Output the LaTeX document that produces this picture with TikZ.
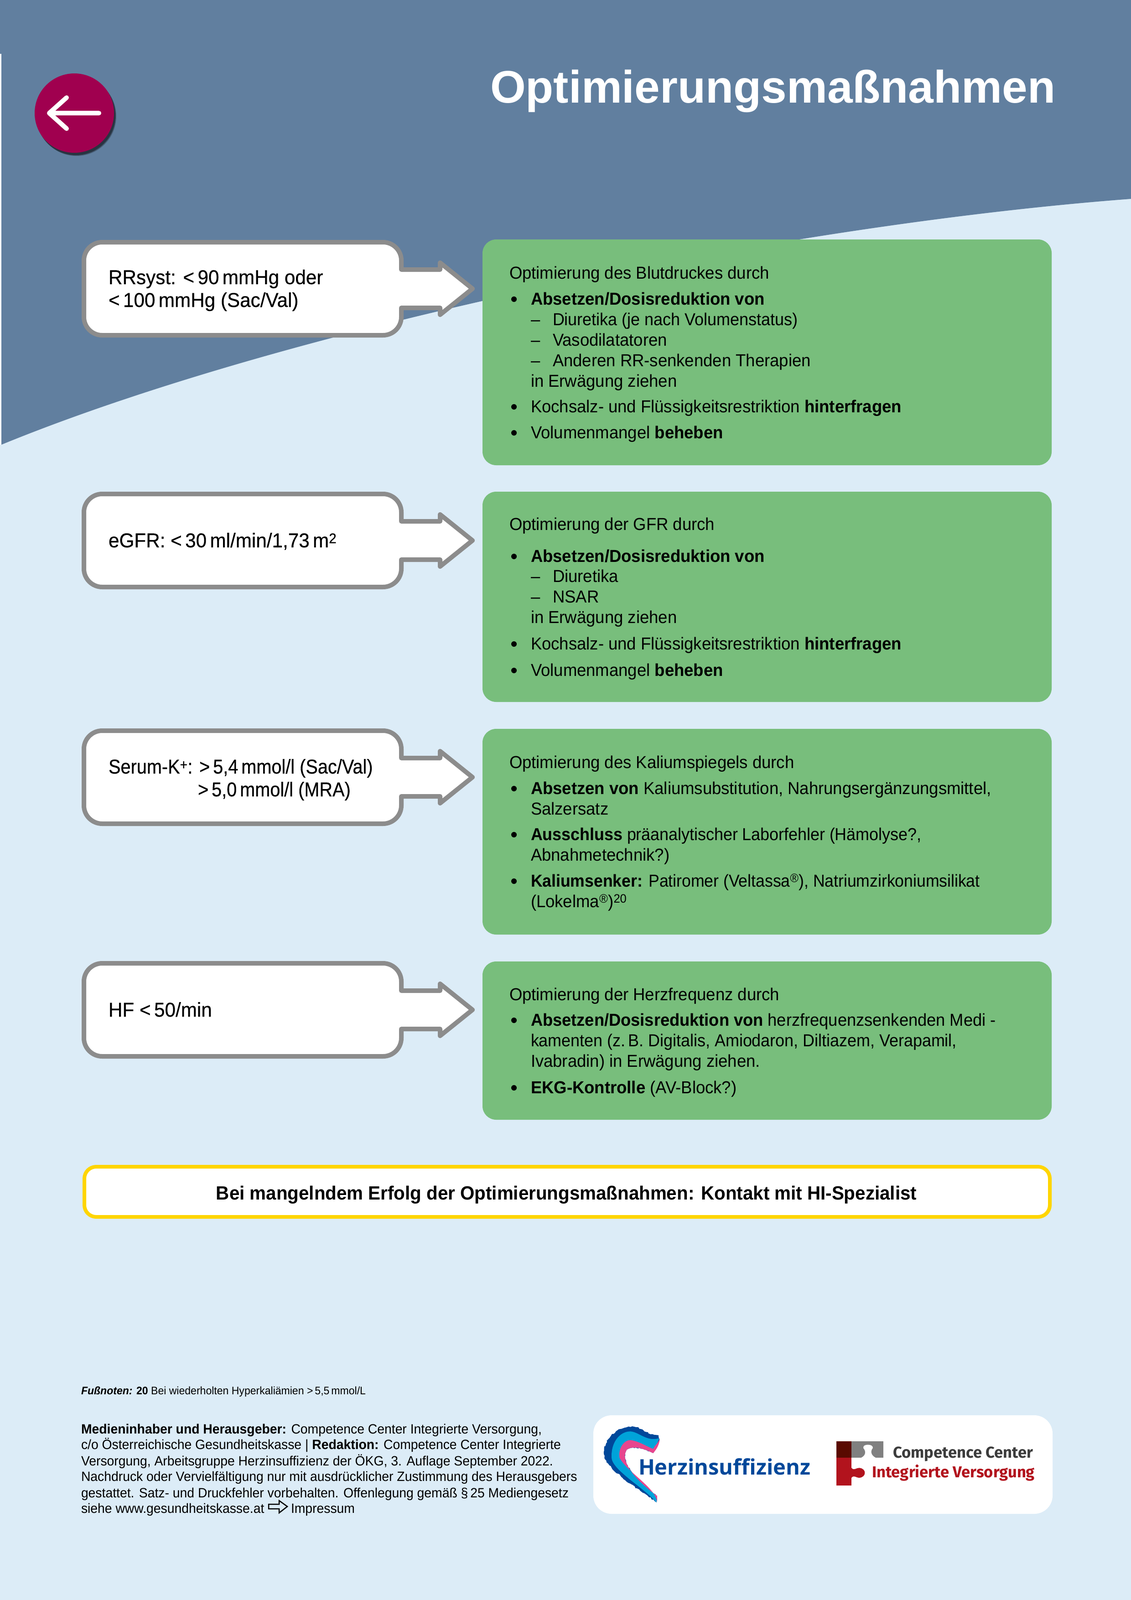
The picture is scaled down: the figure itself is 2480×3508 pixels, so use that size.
\documentclass[tikz,border=0pt]{standalone}
\usepackage{fontspec}
\setmainfont[FakeStretch=0.96]{Liberation Sans}
\newfontfamily\titlef{Liberation Sans}
\newfontfamily\leadf[FakeStretch=0.96,FakeBold=0.35]{Liberation Sans}
\newfontfamily\heartf{Open Sans}
\newfontfamily\ccf{Fira Sans}
\usetikzlibrary{shapes.geometric,decorations.pathmorphing}
\definecolor{bandblue}{HTML}{617F9F}
\definecolor{paleblue}{HTML}{DCECF7}
\definecolor{boxgreen}{HTML}{78BE7C}
\definecolor{plum}{HTML}{A0004F}
\definecolor{calloutgray}{HTML}{8C8C8C}
\definecolor{signal}{HTML}{FFD500}
\definecolor{logoblue}{HTML}{00489A}
\definecolor{logocyan}{HTML}{00A3D9}
\definecolor{logopink}{HTML}{E8458E}
\definecolor{logored}{HTML}{B2131D}
\definecolor{logodark}{HTML}{5A0A00}
\definecolor{logogray}{HTML}{808080}
\definecolor{logotext}{HTML}{3C3C3C}
\tikzset{
  x=1pt,y=-1pt,
  tx/.style={inner sep=0pt,outer sep=0pt,anchor=base west,text=black},
  body/.style={tx,font=\fontsize{38}{45}\selectfont},
  lead/.style={tx,font=\leadf\fontsize{44}{50}\selectfont},
  foot/.style={tx,font=\fontsize{29.5}{35}\selectfont},
  note/.style={tx,font=\fontsize{24}{30}\selectfont},
  greenbox/.style={fill=boxgreen,rounded corners=30pt,draw=none},
  calloutbox/.style={draw=calloutgray,fill=white,line width=10pt,line join=round},
  dot/.style={circle,fill=black,inner sep=0pt,minimum size=12pt},
}
\newcommand\tl[5][body]{\node[#1] (#2) at (#3,#4) {#5};}
\newcommand\bul[2]{\node[dot] (#1) at (1127,#2-12) {};}
\newcommand\callout[2]{%
  \draw[calloutbox] (224,#2-102)
    -- (840,#2-102) .. controls (862,#2-102) and (880,#2-84) .. (880,#2-62)
    -- (880,#2-42) -- (965,#2-42) -- (965,#2-57) -- (1036,#2) -- (965,#2+57) -- (965,#2+42) -- (880,#2+42)
    -- (880,#2+62) .. controls (880,#2+84) and (862,#2+102) .. (840,#2+102)
    -- (224,#2+102) .. controls (202,#2+102) and (184,#2+84) .. (184,#2+62)
    -- (184,#2-62) .. controls (184,#2-84) and (202,#2-102) .. (224,#2-102) -- cycle;
  \coordinate (#1) at (1036,#2);}
\begin{document}
\begin{tikzpicture}
\useasboundingbox (0,0) rectangle (2480,3508);
\fill[paleblue] (0,0) rectangle (2480,3508);
\fill[white] (0,118) rectangle (3,975);
\fill[bandblue] (0,0) -- (2480,0) -- (2480,436)
  .. controls (1700,495) and (620,722) .. (3,975) -- (3,118) -- (0,118) -- cycle;

% back button
\foreach \o in {0.3,0.25,0.2}{\fill[black,opacity=\o] ({163+5-20*\o+4},{248+7-20*\o+4}) circle[radius=87];}
\fill[plum] (163,248) circle[radius=87];
\draw[white,line width=10pt,line cap=round,line join=round] (217,248) -- (108,248) (146,214) -- (108,248) -- (146,282);

\node[tx,text=white,font=\titlef\bfseries\fontsize{100}{110}\selectfont] (title) at (1075,226) {Optimierungsmaßnahmen};

% green boxes
\fill[greenbox] (1058,525) rectangle (2306,1020);
\fill[greenbox] (1058,1078) rectangle (2306,1539);
\fill[greenbox] (1058,1598) rectangle (2306,2049);
\fill[greenbox] (1058,2108) rectangle (2306,2455);

% callouts
\callout{tipa}{633}
\callout{tipb}{1185}
\callout{tipc}{1704}
\callout{tipd}{2214}

\tl[lead]{la}{238}{623}{RRsyst: <\,90\,mmHg oder}
\tl[lead]{lb}{238}{673}{<\,100\,mmHg (Sac/Val)}
\tl[lead]{lc}{238}{1200}{eGFR: <\,30\,ml/min/1,73\,m\textsuperscript{2}}
\tl[lead]{ld}{238}{1696}{\scalebox{0.94}[1]{Serum-K\textsuperscript{+}: >\,5,4\,mmol/l (Sac/Val)}}
\tl[lead]{le}{434}{1746}{\scalebox{0.94}[1]{>\,5,0\,mmol/l (MRA)}}
\tl[lead]{lf}{238}{2229}{HF <\,50/min}

% box 1
\tl{a0}{1117}{611}{Optimierung des Blutdruckes durch}
\bul{a1b}{668}
\tl{a1}{1164}{668}{\bfseries Absetzen/Dosisreduktion von}
\tl{a2d}{1164}{713}{–}\tl{a2}{1212}{713}{\scalebox{0.985}[1]{Diuretika (je nach Volumenstatus)}}
\tl{a3d}{1164}{758}{–}\tl{a3}{1212}{758}{Vasodilatatoren}
\tl{a4d}{1164}{803}{–}\tl{a4}{1212}{803}{Anderen RR-senkenden Therapien}
\tl{a5}{1164}{848}{in Erwägung ziehen}
\bul{a6b}{904}
\tl{a6}{1164}{904}{Kochsalz- und Flüssigkeitsrestriktion \textbf{hinterfragen}}
\bul{a7b}{961}
\tl{a7}{1164}{961}{Volumenmangel \textbf{beheben}}

% box 2
\tl{b0}{1117}{1162}{Optimierung der GFR durch}
\bul{b1b}{1232}
\tl{b1}{1164}{1232}{\bfseries Absetzen/Dosisreduktion von}
\tl{b2d}{1164}{1276}{–}\tl{b2}{1212}{1276}{Diuretika}
\tl{b3d}{1164}{1321}{–}\tl{b3}{1212}{1321}{NSAR}
\tl{b4}{1164}{1366}{in Erwägung ziehen}
\bul{b5b}{1424}
\tl{b5}{1164}{1424}{Kochsalz- und Flüssigkeitsrestriktion \textbf{hinterfragen}}
\bul{b6b}{1482}
\tl{b6}{1164}{1482}{Volumenmangel \textbf{beheben}}

% box 3
\tl{c0}{1117}{1684}{Optimierung des Kaliumspiegels durch}
\bul{c1b}{1741}
\tl{c1}{1164}{1741}{\textbf{Absetzen von} Kaliumsubstitution, Nahrungsergänzungsmittel,}
\tl{c2}{1164}{1786}{Salzersatz}
\bul{c3b}{1842}
\tl{c3}{1164}{1842}{\scalebox{0.982}[1]{\textbf{Ausschluss} präanalytischer Laborfehler (Hämolyse?,}}
\tl{c4}{1164}{1887}{Abnahmetechnik?)}
\bul{c5b}{1944}
\tl{c5}{1164}{1944}{\scalebox{0.975}[1]{\textbf{Kaliumsenker:} Patiromer (Veltassa\textsuperscript{®}), Natriumzirkoniumsilikat}}
\tl{c6}{1164}{1989}{(Lokelma\textsuperscript{®})\textsuperscript{20}}

% box 4
\tl{d0}{1117}{2193}{Optimierung der Herzfrequenz durch}
\bul{d1b}{2249}
\tl{d1}{1164}{2249}{\scalebox{0.994}[1]{\textbf{Absetzen/Dosisreduktion von} herzfrequenzsenkenden Medi -}}
\tl{d2}{1164}{2294}{\scalebox{0.984}[1]{kamenten (z.\,B. Digitalis, Amiodaron, Diltiazem, Verapamil,}}
\tl{d3}{1164}{2339}{Ivabradin) in Erwägung ziehen.}
\bul{d4b}{2397}
\tl{d4}{1164}{2397}{\textbf{EKG-Kontrolle} (AV-Block?)}

% signal box
\draw[draw=signal,fill=white,line width=8pt,rounded corners=26pt] (185,2558) rectangle (2302,2668);
\node[tx,anchor=base,font=\bfseries\fontsize{42}{50}\selectfont] (signaltext) at (1242,2630) {Bei mangelndem Erfolg der Optimierungsmaßnahmen: Kontakt mit HI-Spezialist};

% footer
\tl[note]{fn}{178}{3057}{\textbf{\textit{Fußnoten:}} \textbf{20} Bei wiederholten Hyperkaliämien >\,5,5\,mmol/L}
\tl[foot]{f1}{178}{3143}{\textbf{Medieninhaber und Herausgeber:} Competence Center Integrierte Versorgung,}
\tl[foot]{f2}{178}{3177}{c/o Österreichische Gesundheitskasse | \textbf{Redaktion:} Competence Center Integrierte}
\tl[foot]{f3}{178}{3213}{Versorgung, Arbeitsgruppe Herzinsuffizienz der ÖKG, 3. Auflage September 2022.}
\tl[foot]{f4}{178}{3247}{Nachdruck oder Vervielfältigung nur mit ausdrücklicher Zustimmung des Herausgebers}
\tl[foot]{f5}{178}{3283}{gestattet. Satz- und Druckfehler vorbehalten. Offenlegung gemäß §\,25 Mediengesetz}
\tl[foot]{f6}{178}{3317}{siehe www.gesundheitskasse.at}
\draw[black,line width=2.5pt,line join=miter] (589,3298) -- (612,3298) -- (612,3290) -- (630,3303) -- (612,3317) -- (612,3308) -- (589,3308) -- cycle;
\tl[foot]{f7}{638}{3317}{Impressum}

% logo panel
\fill[white,rounded corners=40pt] (1301,3103) rectangle (2308,3319);
\begin{scope}[shift={(1240,3050)},x=0.7908pt,y=-0.3333pt]
  \fill[logoblue,decorate,decoration={random steps,segment length=4pt,amplitude=1.5pt}] (252,732) .. controls (200,640) and (130,540) .. (108,440)
     .. controls (100,340) and (130,240) .. (185,232)
     .. controls (215,240) and (235,300) .. (258,288) -- (261,320) -- (243,408)
     .. controls (210,370) and (185,360) .. (170,385)
     .. controls (155,440) and (170,540) .. (254,690) -- cycle;
  \fill[logocyan] (252,732) .. controls (220,640) and (130,520) .. (128,440)
     .. controls (125,340) and (150,265) .. (180,265)
     .. controls (205,270) and (225,335) .. (260,310) -- (243,408)
     .. controls (210,370) and (185,360) .. (170,385)
     .. controls (155,440) and (170,540) .. (254,690) -- cycle;
  \fill[logopink] (254,732) .. controls (252,640) and (175,540) .. (150,440)
     .. controls (145,370) and (165,320) .. (180,322)
     .. controls (205,330) and (225,365) .. (243,380)
     .. controls (250,350) and (258,340) .. (261,310)
     .. controls (262,350) and (250,390) .. (243,408)
     .. controls (210,370) and (185,360) .. (170,385)
     .. controls (155,440) and (170,540) .. (254,690) -- cycle;
  \fill[logodark] (751,331) rectangle (793,438);
  \fill[logogray] (793,331) rectangle (881,438);
  \fill[white] (820,438) .. controls (835,420) and (832,390) .. (826,375)
     .. controls (822,345) and (855,345) .. (852,375)
     .. controls (846,390) and (845,420) .. (860,438) -- cycle;
  \fill[logored] (751,438) rectangle (793,622);
  \fill[logored] (793,505) .. controls (800,525) and (805,505) .. (815,505)
     .. controls (835,510) and (835,565) .. (815,570)
     .. controls (805,570) and (800,550) .. (793,570) -- cycle;
\end{scope}
\node[tx,text=logoblue,font=\heartf\bfseries\fontsize{47}{50}\selectfont] (logoa) at (1400,3233) {Herzinsuffizienz};
\node[tx,text=logotext,font=\ccf\bfseries\fontsize{34.6}{36}\selectfont] (logob) at (1958,3196) {Competence Center};
\node[tx,text=logored,font=\ccf\bfseries\fontsize{34.6}{36}\selectfont] (logoc) at (1912,3239) {Integrierte Versorgung};
\end{tikzpicture}
\end{document}
